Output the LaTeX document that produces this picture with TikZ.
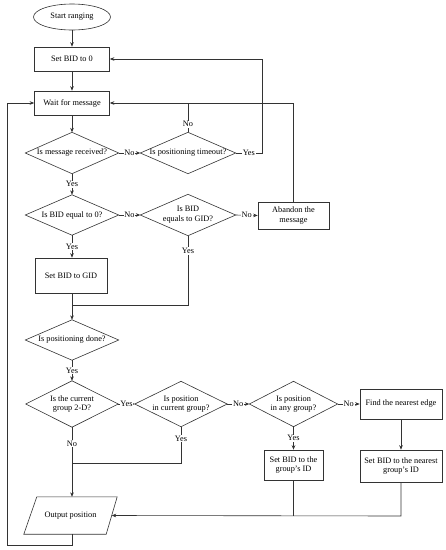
\documentclass[tikz,border=0pt]{standalone}
\usepackage{fontspec}
\setmainfont{Liberation Serif}
\usetikzlibrary{shapes.geometric,arrows.meta}
\begin{document}
\begin{tikzpicture}[x=1pt,y=-1pt,
  every node/.style={font=\fontsize{8.3}{9.7}\selectfont, align=center, inner sep=0pt},
  line/.style={draw=black!80, line width=0.6pt},
  arr/.style={line, -{Stealth[length=4.5pt,width=3.6pt]}},
  box/.style={draw=black!80, line width=0.6pt, rectangle},
  dia/.style={rectangle},
  lab/.style={fill=white, inner sep=0.8pt}]
\useasboundingbox (0,0) rectangle (446,550);
% nodes
\node[draw=black!80, line width=0.6pt, ellipse, minimum width=77pt, minimum height=26pt] (start) at (72,17) {Start ranging};
\node[box, minimum width=75pt, minimum height=24pt] (b0) at (72,59) {Set BID to 0};
\node[box, minimum width=75pt, minimum height=24pt] (wait) at (72,103) {Wait for message};
\node[dia, minimum width=93pt, minimum height=41pt] (d1) at (72,153) {Is message received?};
\node[dia, minimum width=95pt, minimum height=41pt] (d2) at (188,153) {Is positioning timeout?};
\node[dia, minimum width=93pt, minimum height=40pt] (d3) at (72,215) {Is BID equal to 0?};
\node[dia, minimum width=95pt, minimum height=41pt] (d4) at (188,215) {Is BID\\equals to GID?};
\node[box, minimum width=71pt, minimum height=27pt] (ab) at (293.5,215.5) {Abandon the\\message};
\node[box, minimum width=72pt, minimum height=35pt] (gid) at (71,275.5) {Set BID to GID};
\node[dia, minimum width=93pt, minimum height=40pt] (d5) at (72,340) {Is positioning done?};
\node[dia, minimum width=92pt, minimum height=46pt] (d6) at (72,404) {Is the current\\group 2-D?};
\node[dia, minimum width=92pt, minimum height=45pt] (d7) at (181,404) {Is position\\in current group?};
\node[dia, minimum width=88pt, minimum height=45pt] (d8) at (293.5,404) {Is position\\in any group?};
\node[box, minimum width=82pt, minimum height=30pt] (fe) at (401,404) {Find the nearest edge};
\node[box, minimum width=59pt, minimum height=30pt] (sg) at (293.5,465) {Set BID to the\\group's ID};
\node[box, minimum width=82pt, minimum height=32pt] (sn) at (401,466) {Set BID to the nearest\\group's ID};
\node[rectangle, minimum width=93pt, minimum height=37pt] (out) at (70.5,515.5) {Output position};
% parallelogram outline for output
\draw[line] ([xshift=13pt]out.north west) -- (out.north east) -- ([xshift=-11pt]out.south east) -- (out.south west) -- cycle;
\coordinate (oe) at ([xshift=-5.5pt]out.east);
% diamond outlines
\foreach \n in {d1,d2,d3,d4,d5,d6,d7,d8}
  \draw[line] (\n.west) -- (\n.north) -- (\n.east) -- (\n.south) -- cycle;
% helper coordinates
\coordinate (j1) at (d2.north |- wait.east);
\coordinate (j2) at (262,153);
\coordinate (m1) at (72,305);
\coordinate (m2) at (72,463);
\coordinate (m3) at (401,516);
\coordinate (lb) at (72,545);
\coordinate (lc) at (7,545);
% connectors
\draw[arr] (start) -- (b0);
\draw[arr] (b0) -- (wait);
\draw[arr] (wait) -- (d1);
\draw[arr] (d1.east) -- node[lab]{No} (d2.west);
\draw[arr] (d2.east) -- node[lab, pos=0.5]{Yes} (j2) |- (b0.east);
\draw[line] (d2.north) -- node[lab, pos=0.28]{No} (j1);
\draw[arr] (ab.north) |- (wait.east);
\draw[arr] (d1.south) -- node[lab]{Yes} (d3.north);
\draw[arr] (d3.east) -- node[lab]{No} (d4.west);
\draw[arr] (d4.east) -- node[lab]{No} (ab.west);
\draw[arr] (d3.south) -- node[lab]{Yes} (d3.south |- gid.north);
\draw[line] (gid.south -| m1) -- (m1);
\draw[line] (d4.south) -- node[lab, pos=0.22]{Yes} (d4.south |- m1) -- (m1);
\draw[arr] (m1) -- (d5.north);
\draw[arr] (d5.south) -- node[lab]{Yes} (d6.north);
\draw[arr] (d6.east) -- node[lab]{Yes} (d7.west);
\draw[arr] (d7.east) -- node[lab]{No} (d8.west);
\draw[arr] (d8.east) -- node[lab]{No} (fe.west);
\draw[arr] (d8.south) -- node[lab]{Yes} (sg.north);
\draw[arr] (fe) -- (sn);
\draw[arr] (d6.south) -- node[lab, pos=0.24]{No} (d6.south |- out.north);
\draw[line] (d7.south) -- node[lab, pos=0.33]{Yes} (d7.south |- m2) -- (m2);
\draw[line] (sg.south) -- (sg.south |- m3);
\draw[arr] (sn.south) -- (m3) -- (oe);
\draw[arr] (d6.south |- out.south) -- (lb) -- (lc) |- (wait.west);
\end{tikzpicture}
\end{document}
